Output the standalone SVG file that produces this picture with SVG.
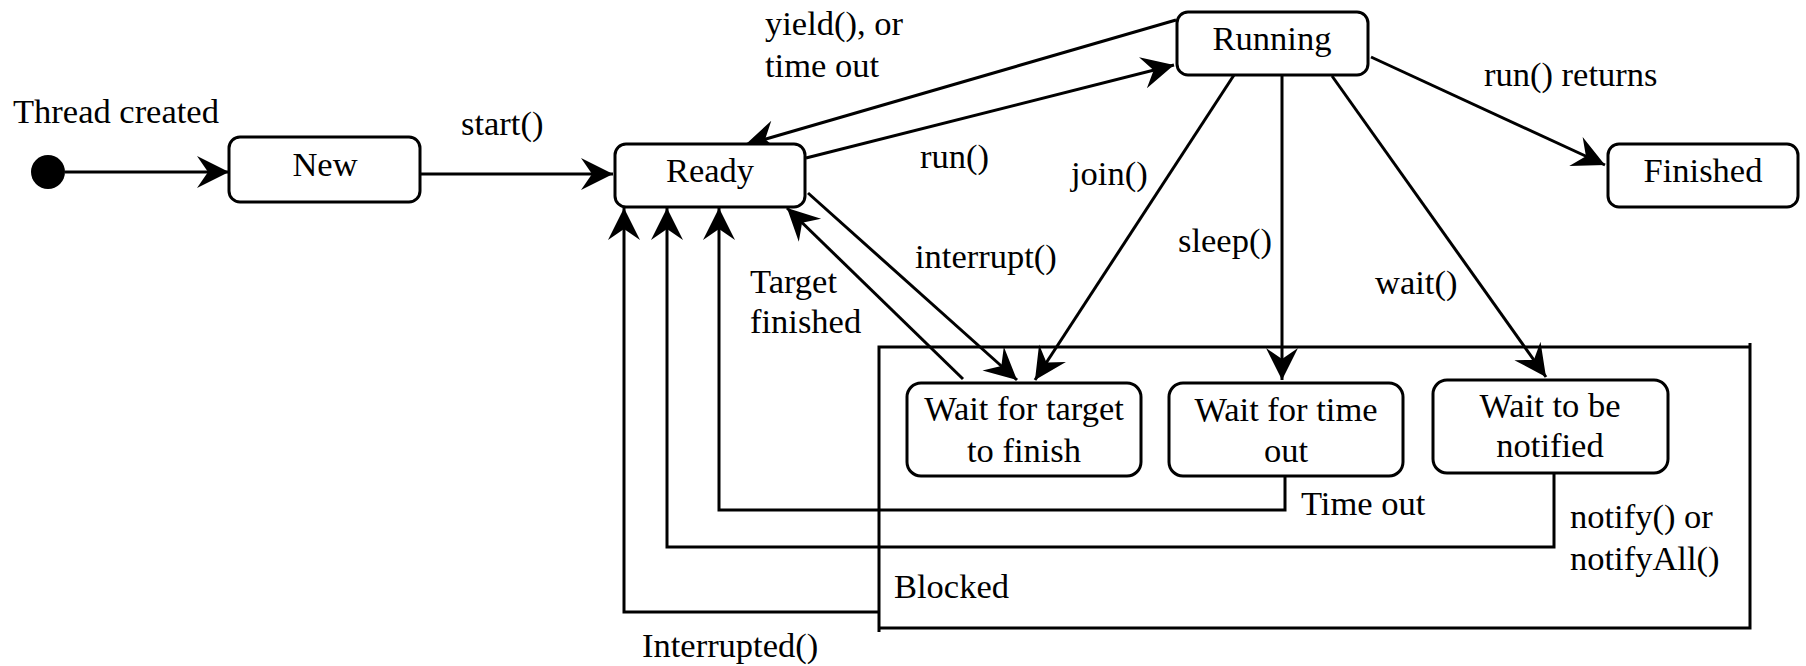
<svg xmlns="http://www.w3.org/2000/svg" width="1806" height="666" viewBox="0 0 1806 666">
<style>
  .box { fill: #fff; stroke: #000; stroke-width: 3; }
  .edge { fill: none; stroke: #000; stroke-width: 3; }
  .arr { marker-end: url(#ah); }
  text { font-family: "Liberation Serif", "Times New Roman", serif; font-size: 34.5px; fill: #000; }
  .c { text-anchor: middle; }
</style>
<defs>
  <marker id="ah" markerUnits="userSpaceOnUse" viewBox="-33 -17 34 34" markerWidth="34" markerHeight="34" refX="0" refY="0" orient="auto">
    <path d="M0,0 L-32,-16 L-21,0 L-32,16 Z" fill="#000"/>
  </marker>
</defs>

<g id="connectors">
  <line class="edge arr" x1="65" y1="172" x2="229" y2="172"/>
  <line class="edge arr" x1="420" y1="174" x2="613" y2="174"/>
  <line class="edge arr" x1="1176" y1="20" x2="745" y2="145"/>
  <line class="edge arr" x1="806" y1="158" x2="1174" y2="65"/>
  <line class="edge arr" x1="1371" y1="57" x2="1605" y2="165"/>
  <line class="edge arr" x1="1236" y1="72" x2="1035" y2="380"/>
  <line class="edge arr" x1="1282" y1="75" x2="1282" y2="380"/>
  <line class="edge arr" x1="1332" y1="76" x2="1546" y2="377"/>
  <line class="edge arr" x1="808" y1="193" x2="1017" y2="380"/>
  <line class="edge arr" x1="963" y1="379" x2="787" y2="208"/>
  <path class="edge arr" d="M1285,476 L1285,510 L719,510 L719,208"/>
  <path class="edge arr" d="M1554,473 L1554,547 L667,547 L667,208"/>
  <path class="edge arr" d="M879,612 L624,612 L624,208"/>
</g>

<g id="blocked">
  <path class="edge" d="M879,632 L879,347 L1750,347 M1750,343 L1750,628 L879,628"/>
  <text x="894" y="598">Blocked</text>
</g>

<g id="start">
  <ellipse cx="48" cy="172" rx="17" ry="17" fill="#000"/>
  <text x="13" y="123">Thread created</text>
</g>

<g id="new">
  <rect class="box" x="229" y="137" width="191" height="65" rx="11"/>
  <text class="c" x="325" y="176">New</text>
</g>

<g id="ready">
  <rect class="box" x="615" y="144" width="190" height="63" rx="11"/>
  <text class="c" x="710" y="182">Ready</text>
</g>

<g id="running">
  <rect class="box" x="1177" y="12" width="191" height="63" rx="11"/>
  <text class="c" x="1272" y="50">Running</text>
</g>

<g id="finished">
  <rect class="box" x="1608" y="144" width="190" height="63" rx="11"/>
  <text class="c" x="1703" y="182">Finished</text>
</g>

<g id="wait-target">
  <rect class="box" x="907" y="383" width="234" height="93" rx="14"/>
  <text class="c" x="1024" y="420">Wait for target</text>
  <text class="c" x="1024" y="462">to finish</text>
</g>

<g id="wait-timeout">
  <rect class="box" x="1169" y="383" width="234" height="93" rx="14"/>
  <text class="c" x="1286" y="421">Wait for time</text>
  <text class="c" x="1286" y="462">out</text>
</g>

<g id="wait-notified">
  <rect class="box" x="1433" y="380" width="235" height="93" rx="14"/>
  <text class="c" x="1550" y="417">Wait to be</text>
  <text class="c" x="1550" y="457">notified</text>
</g>

<g id="labels">
  <text x="461" y="135">start()</text>
  <text x="765" y="35">yield(), or</text>
  <text x="765" y="77">time out</text>
  <text x="920" y="168">run()</text>
  <text x="1484" y="86">run() returns</text>
  <text x="1071" y="185">join()</text>
  <text x="1178" y="252">sleep()</text>
  <text x="1375" y="294">wait()</text>
  <text x="915" y="268">interrupt()</text>
  <text x="750" y="293">Target</text>
  <text x="750" y="333">finished</text>
  <text x="1301" y="515">Time out</text>
  <text x="1570" y="528">notify() or</text>
  <text x="1570" y="570">notifyAll()</text>
  <text x="642" y="657">Interrupted()</text>
</g>
</svg>
